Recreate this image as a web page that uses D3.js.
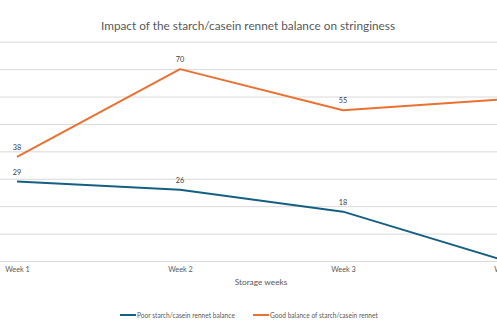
<!DOCTYPE html>
<html>
<head>
<meta charset="utf-8">
<script src="https://cdn.jsdelivr.net/npm/d3@7/dist/d3.min.js"></script>
<style>
  html, body { margin: 0; padding: 0; background: #fff; }
  svg { display: block; font-family: Lato, "Open Sans", sans-serif; }
</style>
</head>
<body>
<svg id="chart" width="497" height="333"></svg>
<script>
// Chart data
const weeks = ["Week 1", "Week 2", "Week 3", "Week 4"];
const poorBalance = [29, 26, 18, 0];
const goodBalance = [38, 70, 55, 59];
const yTicks = [0, 10, 20, 30, 40, 50, 60, 70, 80];
const seriesNames = ["Poor starch/casein rennet balance", "Good balance of starch/casein rennet"];
const seriesColors = ["#156082", "#E97132"];

const W = 497, H = 333;
const svg = d3.select("#chart");

const x = d3.scalePoint().domain(weeks).range([17, 506]);
const y = d3.scaleLinear().domain([0, 80]).range([261, 41.7]);

// Title
svg.append("text")
  .attr("x", 248).attr("y", 29.5)
  .attr("text-anchor", "middle")
  .attr("font-size", 11.8)
  .attr("fill", "#595959")
  .text("Impact of the starch/casein rennet balance on stringiness");

// Horizontal gridlines
svg.append("g")
  .call(d3.axisLeft(y).tickValues(yTicks).tickSize(-W).tickFormat(""))
  .call(g => g.select(".domain").remove())
  .call(g => g.selectAll(".tick line").attr("stroke", "#d9d9d9").attr("stroke-width", 1));

// Category axis labels
const xAxis = svg.append("g")
  .attr("transform", `translate(0,${y(0)})`)
  .call(d3.axisBottom(x).tickSize(0).tickPadding(6));
xAxis.select(".domain").remove();
xAxis.selectAll(".tick text")
  .attr("font-size", 7.3)
  .attr("fill", "#595959")
  .attr("font-family", "Lato, Open Sans, sans-serif");

// Axis title
svg.append("text")
  .attr("x", 261).attr("y", 285)
  .attr("text-anchor", "middle")
  .attr("font-size", 8.3)
  .attr("fill", "#595959")
  .text("Storage weeks");

// Lines and data labels
const line = d3.line().x((d, i) => x(weeks[i])).y(d => y(d));
[poorBalance, goodBalance].forEach((vals, s) => {
  svg.append("path")
    .datum(vals)
    .attr("fill", "none")
    .attr("stroke", seriesColors[s])
    .attr("stroke-width", 2)
    .attr("stroke-linejoin", "round")
    .attr("d", line);

  svg.append("g").selectAll("text")
    .data(vals)
    .join("text")
    .attr("x", (d, i) => x(weeks[i]))
    .attr("y", d => y(d) - 7)
    .attr("text-anchor", "middle")
    .attr("font-size", 7.3)
    .attr("fill", "#404040")
    .text(d => d);
});

// Legend
const legendItems = [
  { x: 120, name: seriesNames[0], color: seriesColors[0] },
  { x: 253, name: seriesNames[1], color: seriesColors[1] }
];
const legend = svg.append("g");
legendItems.forEach(item => {
  legend.append("line")
    .attr("x1", item.x).attr("x2", item.x + 16)
    .attr("y1", 315).attr("y2", 315)
    .attr("stroke", item.color).attr("stroke-width", 2);
  legend.append("text")
    .attr("x", item.x + 17).attr("y", 317.5)
    .attr("font-size", 6.6)
    .attr("fill", "#595959")
    .text(item.name);
});
</script>
</body>
</html>
